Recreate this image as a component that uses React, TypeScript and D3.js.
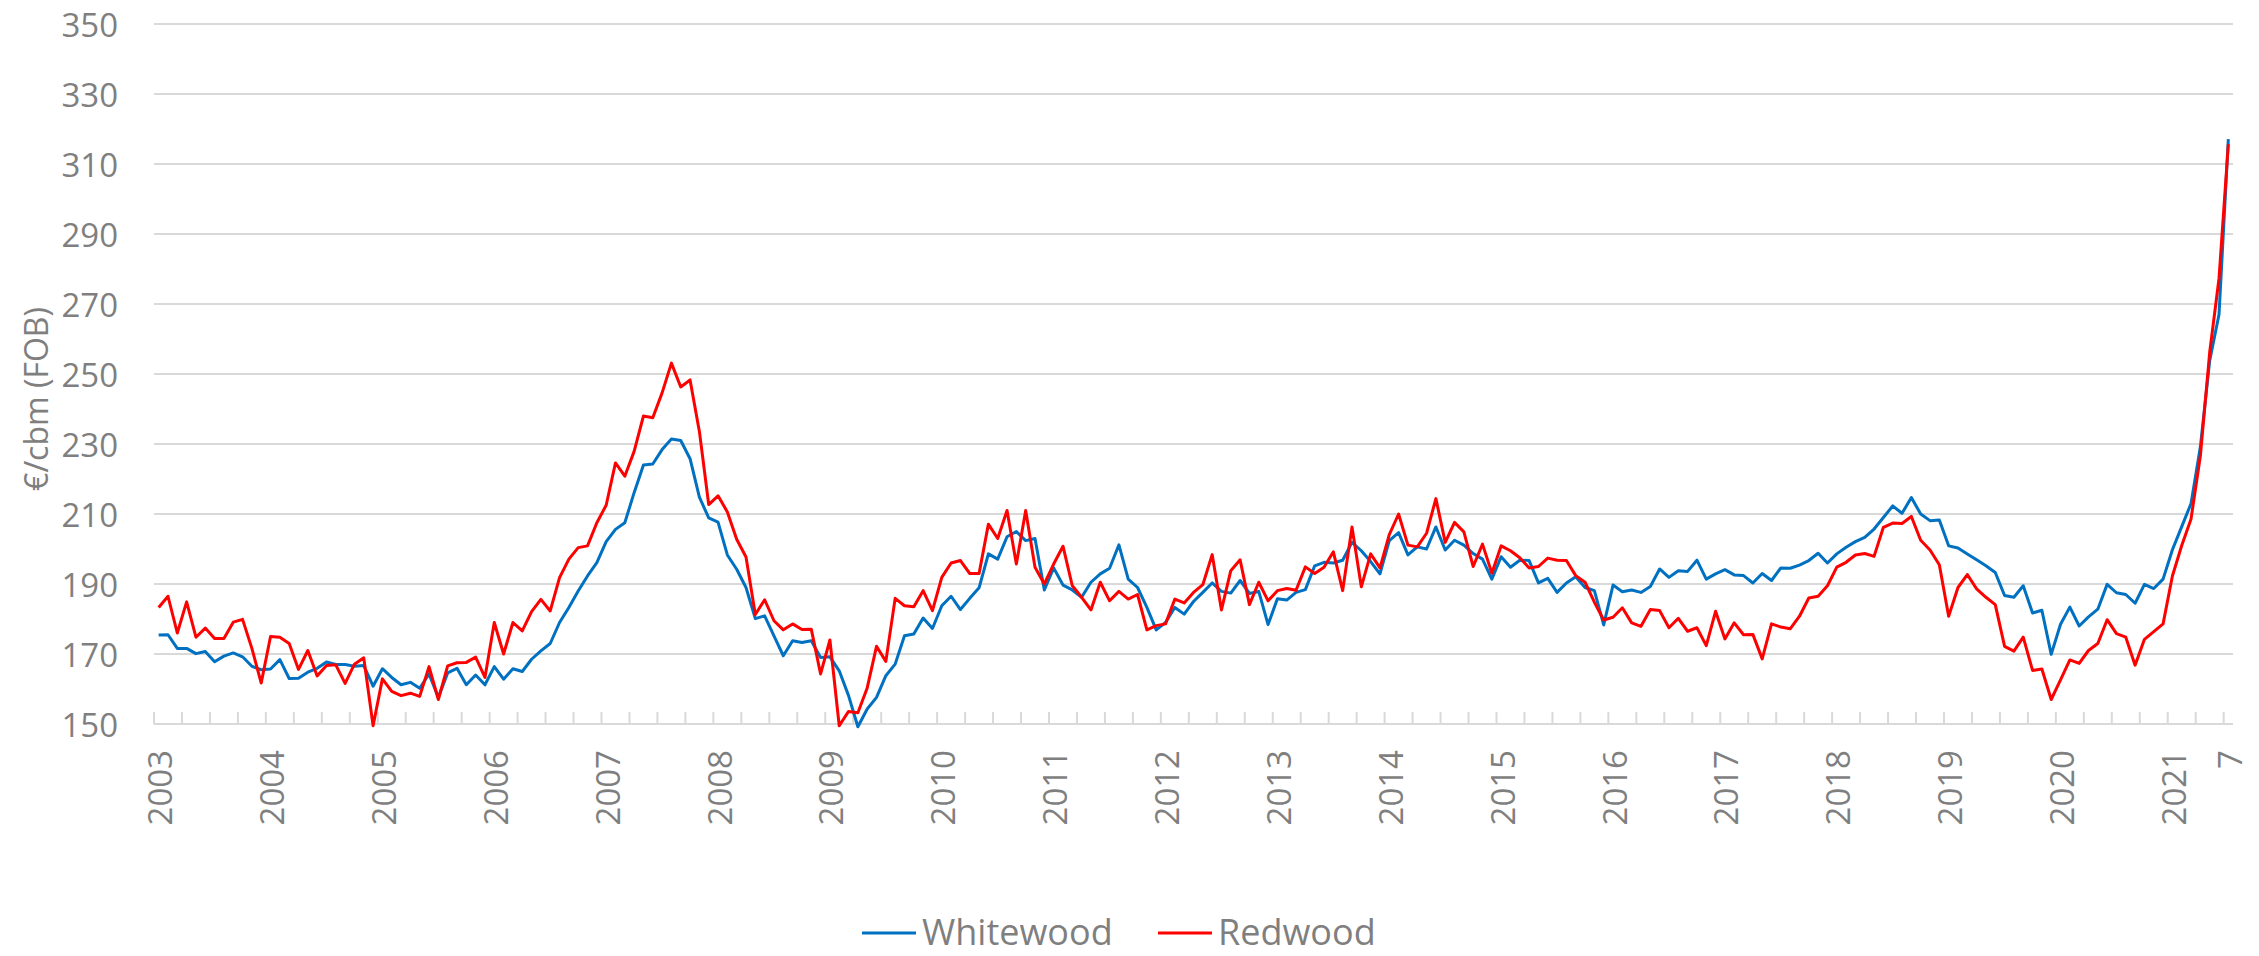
import React, { useEffect, useRef } from 'react';
import * as d3 from 'd3';

// monthly prices, Jan 2003 .. Jul 2021 (€/cbm FOB)
const whitewood = [
  175.4, 175.5, 171.6, 171.6, 170.1, 170.7, 167.8, 169.4, 170.3, 169.2, 166.5, 165.5, // 2003
  165.7, 168.4, 163.0, 163.1, 164.8, 165.9, 167.7, 167.0, 167.0, 166.5, 166.7, 160.8, // 2004
  165.8, 163.3, 161.2, 161.9, 160.2, 164.3, 157.6, 164.6, 165.9, 161.2, 164.0, 161.2, // 2005
  166.4, 162.8, 165.8, 165.0, 168.5, 170.9, 173.0, 179.0, 183.3, 188.0, 192.3, 196.1, // 2006
  202.1, 205.6, 207.5, 216.1, 224.0, 224.3, 228.4, 231.4, 231.0, 225.8, 214.8, 208.9, // 2007
  207.7, 198.3, 194.2, 189.0, 180.1, 180.9, 175.2, 169.5, 173.8, 173.3, 173.8, 169.0, // 2008
  169.2, 165.2, 158.1, 149.2, 154.3, 157.6, 163.8, 167.1, 175.2, 175.7, 180.3, 177.3, // 2009
  183.8, 186.5, 182.7, 185.9, 188.9, 198.6, 197.1, 203.5, 205.0, 202.4, 203.0, 188.3, // 2010
  194.6, 189.7, 188.3, 186.2, 190.5, 192.9, 194.5, 201.2, 191.4, 189.0, 183.3, 176.9, // 2011
  179.0, 183.3, 181.4, 185.0, 187.6, 190.3, 187.9, 187.4, 191.0, 187.3, 187.9, 178.4, // 2012
  185.8, 185.4, 187.6, 188.4, 195.2, 196.2, 196.0, 196.8, 201.9, 199.5, 196.4, 192.9, // 2013
  202.4, 204.7, 198.3, 200.6, 200.0, 206.3, 199.7, 202.5, 201.1, 198.7, 197.1, 191.4, // 2014
  197.8, 194.8, 196.8, 196.7, 190.3, 191.6, 187.6, 190.3, 192.1, 189.0, 188.1, 178.3, // 2015
  189.7, 187.8, 188.3, 187.6, 189.3, 194.3, 191.9, 193.8, 193.6, 196.8, 191.4, 192.9, // 2016
  194.1, 192.6, 192.4, 190.3, 193.0, 191.0, 194.6, 194.5, 195.4, 196.7, 198.8, 196.0, // 2017
  198.6, 200.5, 202.1, 203.3, 205.7, 209.0, 212.3, 210.2, 214.7, 210.0, 208.1, 208.3, // 2018
  200.9, 200.3, 198.6, 196.9, 195.2, 193.3, 186.7, 186.2, 189.5, 181.7, 182.5, 169.9, // 2019
  178.5, 183.4, 178.0, 180.6, 182.8, 189.9, 187.5, 187.0, 184.5, 189.9, 188.7, 191.4, // 2020
  199.8, 206.4, 213.0, 229.2, 253.8, 267.0, 317.1, // 2021
];

const redwood = [
  183.3, 186.5, 176.0, 184.9, 174.8, 177.4, 174.4, 174.4, 179.1, 179.9, 171.6, 161.7,
  175.0, 174.8, 173.0, 165.6, 171.0, 163.7, 166.7, 166.9, 161.6, 167.1, 168.9, 149.5,
  162.9, 159.3, 158.1, 158.8, 157.9, 166.4, 157.0, 166.6, 167.5, 167.6, 169.1, 163.3,
  179.0, 170.0, 179.0, 176.6, 182.1, 185.6, 182.3, 191.8, 197.1, 200.4, 200.9, 207.5,
  212.5, 224.6, 220.8, 227.9, 238.0, 237.5, 244.6, 253.1, 246.3, 248.3, 233.6, 212.7,
  215.2, 210.6, 202.8, 197.7, 181.3, 185.5, 179.5, 176.9, 178.6, 177.0, 177.1, 164.3,
  174.0, 149.5, 153.6, 153.2, 160.3, 172.2, 167.9, 185.9, 183.8, 183.5, 188.1, 182.4,
  191.9, 196.0, 196.7, 193.0, 193.0, 207.1, 203.0, 211.0, 195.7, 211.0, 194.8, 190.0,
  195.7, 200.8, 189.5, 186.2, 182.6, 190.5, 185.2, 187.9, 185.7, 187.0, 176.9, 178.1,
  178.6, 185.7, 184.6, 187.6, 189.8, 198.4, 182.6, 193.8, 196.9, 184.1, 190.5, 185.2,
  188.1, 188.7, 188.2, 194.9, 193.0, 194.8, 199.2, 188.1, 206.3, 189.2, 198.6, 194.6,
  204.1, 210.0, 201.1, 200.6, 204.5, 214.4, 201.9, 207.6, 204.9, 195.0, 201.4, 193.1,
  200.9, 199.5, 197.5, 194.6, 195.0, 197.4, 196.8, 196.7, 192.4, 190.5, 184.8, 179.7,
  180.5, 183.2, 178.9, 177.9, 182.7, 182.4, 177.5, 180.2, 176.5, 177.5, 172.4, 182.2,
  174.3, 178.9, 175.5, 175.6, 168.6, 178.6, 177.7, 177.2, 180.8, 186.0, 186.5, 189.5,
  194.8, 196.2, 198.3, 198.7, 197.9, 206.2, 207.4, 207.3, 209.3, 202.5, 199.7, 195.5,
  180.8, 189.0, 192.7, 188.6, 186.2, 184.1, 172.2, 170.8, 174.8, 165.3, 165.7, 157.0,
  162.6, 168.3, 167.3, 171.0, 173.0, 179.8, 175.8, 174.8, 166.8, 174.2, 176.4, 178.6,
  192.3, 201.0, 208.6, 226.6, 256.2, 277.3, 315.7,
];

const years = ['2003', '2004', '2005', '2006', '2007', '2008', '2009', '2010', '2011', '2012',
  '2013', '2014', '2015', '2016', '2017', '2018', '2019', '2020', '2021'];
const lastLabel = '7';
const yTicks = [150, 170, 190, 210, 230, 250, 270, 290, 310, 330, 350];
const seriesNames = ['Whitewood', 'Redwood'];
const seriesColors = ['#0070C0', '#FF0000'];

function PriceChart() {
  const svgRef = useRef(null);

  useEffect(() => {
    const width = 2259;
    const height = 956;
    const left = 154, right = 2233, top = 24, bottom = 724;
    const textColor = '#7F7F7F';
    const gridColor = '#D9D9D9';
    const font = '"Open Sans", sans-serif';

    const svg = d3.select(svgRef.current);
    svg.html('');
    svg.attr('width', width).attr('height', height);

    const n = whitewood.length;
    const x = d3.scaleBand().domain(d3.range(n)).range([left, right]).padding(0);
    const cx = i => x(i) + x.bandwidth() / 2;
    const y = d3.scaleLinear().domain([150, 350]).range([bottom, top]);

    // gridlines
    svg.append('g')
      .selectAll('line')
      .data(yTicks)
      .join('line')
      .attr('x1', left).attr('x2', right)
      .attr('y1', d => y(d)).attr('y2', d => y(d))
      .attr('stroke', gridColor)
      .attr('stroke-width', 2);

    // y labels
    svg.append('g')
      .selectAll('text')
      .data(yTicks)
      .join('text')
      .attr('x', 118)
      .attr('y', d => y(d))
      .attr('text-anchor', 'end')
      .attr('dominant-baseline', 'central')
      .attr('fill', textColor)
      .style('font-family', font)
      .style('font-size', '33px')
      .text(d => d);

    // tick marks every 3 months
    const tickIdx = d3.range(0, n, 3);
    svg.append('g')
      .selectAll('line')
      .data(tickIdx)
      .join('line')
      .attr('x1', d => x(d)).attr('x2', d => x(d))
      .attr('y1', bottom - 12).attr('y2', bottom)
      .attr('stroke', gridColor)
      .attr('stroke-width', 2);

    // x labels
    const labels = years.map((t, k) => ({ t, i: k * 12 }));
    labels.push({ t: lastLabel, i: n - 1 });
    svg.append('g')
      .selectAll('text')
      .data(labels)
      .join('text')
      .attr('transform', d => `translate(${cx(d.i) + 1},${bottom + 26}) rotate(-90)`)
      .attr('text-anchor', 'end')
      .attr('dominant-baseline', 'central')
      .attr('fill', textColor)
      .style('font-family', font)
      .style('font-size', '33px')
      .text(d => d.t);

    // y axis title
    svg.append('text')
      .attr('transform', `translate(35,${(top + bottom) / 2 + 25}) rotate(-90)`)
      .attr('text-anchor', 'middle')
      .attr('dominant-baseline', 'central')
      .attr('fill', textColor)
      .style('font-family', font)
      .style('font-size', '32px')
      .text('€/cbm (FOB)');

    // lines
    const line = d3.line().x((d, i) => cx(i)).y(d => y(d));
    [whitewood, redwood].forEach((s, k) => {
      svg.append('path')
        .datum(s)
        .attr('d', line)
        .attr('fill', 'none')
        .attr('stroke', seriesColors[k])
        .attr('stroke-width', 3)
        .attr('stroke-linejoin', 'round');
    });

    // legend
    const legendX = [862, 1158];
    const g = svg.append('g');
    seriesNames.forEach((name, k) => {
      g.append('line')
        .attr('x1', legendX[k]).attr('x2', legendX[k] + 54)
        .attr('y1', 933).attr('y2', 933)
        .attr('stroke', seriesColors[k])
        .attr('stroke-width', 3);
      g.append('text')
        .attr('x', legendX[k] + 60)
        .attr('y', 945)
        .attr('fill', textColor)
        .style('font-family', font)
        .style('font-size', '36px')
        .text(name);
    });
  }, []);

  return <svg ref={svgRef} style={{ position: 'absolute', left: 0, top: 0, display: 'block' }}></svg>;
}

export default function App() {
  return <PriceChart />;
}
